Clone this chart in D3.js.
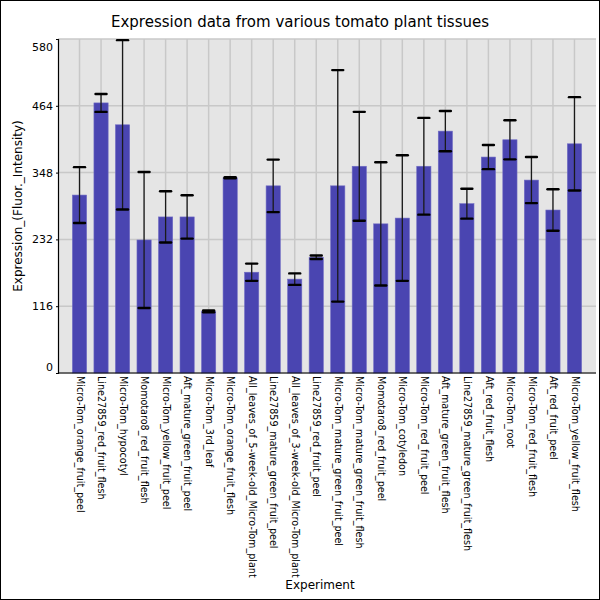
<!DOCTYPE html>
<html>
<head>
<meta charset="utf-8">
<script src="https://cdn.jsdelivr.net/npm/d3@7"></script>
<style>
  body { margin: 0; background: #fff; }
  svg { display: block; font-family: "DejaVu Sans", sans-serif; }
</style>
</head>
<body>
<div id="chart"></div>
<script>
// tissue names, in plotted order
var categories = [
    "Micro-Tom_orange_fruit_peel", "Line27859_red_fruit_flesh", "Micro-Tom_hypocotyl",
    "Momotaro8_red_fruit_flesh", "Micro-Tom_yellow_fruit_peel", "Aft_mature_green_fruit_peel",
    "Micro-Tom_3rd_leaf", "Micro-Tom_orange_fruit_flesh", "All_leaves_of_5-week-old_Micro-Tom_plant",
    "Line27859_mature_green_fruit_peel", "All_leaves_of_3-week-old_Micro-Tom_plant", "Line27859_red_fruit_peel",
    "Micro-Tom_mature_green_fruit_peel", "Micro-Tom_mature_green_fruit_flesh", "Momotaro8_red_fruit_peel",
    "Micro-Tom_cotyledon", "Micro-Tom_red_fruit_peel", "Aft_mature_green_fruit_flesh",
    "Line27859_mature_green_fruit_flesh", "Aft_red_fruit_flesh", "Micro-Tom_root",
    "Micro-Tom_red_fruit_flesh", "Aft_red_fruit_peel", "Micro-Tom_yellow_fruit_flesh"
];
// mean expression
var values = [309, 469, 431, 231, 271, 271, 107, 339, 175, 325, 163, 201,
              325, 359, 259, 269, 359, 420, 294, 375, 405, 335, 283, 398];
// error bar half width
var errors = [48.5, 15.6, 147, 118, 44.5, 37.6, 1.5, 1, 15, 45.6, 10, 3,
              201, 94.5, 107, 109, 84, 35, 26, 21, 34, 40, 36, 81];
var yTicks = [0, 116, 232, 348, 464, 580];

(function () {
    'use strict';

    var width = 600, height = 600;
    // plot area edges
    var pLeft = 58, pRight = 596, pTop = 39, pBottom = 373;

    var svg = d3.select("#chart").append("svg")
        .attr("width", width)
        .attr("height", height);

    svg.append("rect")
        .attr("x", 0.5).attr("y", 0.5)
        .attr("width", width - 1).attr("height", height - 1)
        .attr("fill", "#fff").attr("stroke", "#000");

    var x = d3.scalePoint().domain(categories).range([pLeft, pRight]).padding(1);
    var y = d3.scaleLinear().domain([0, 580]).range([pBottom, pTop]);
    var barW = x.step() * 0.66;

    // plot background
    svg.append("rect")
        .attr("x", pLeft).attr("y", pTop)
        .attr("width", pRight - pLeft).attr("height", pBottom - pTop)
        .attr("fill", "#e5e5e5");

    // grid
    svg.append("g").selectAll("line")
        .data(yTicks)
        .enter().append("line")
        .attr("x1", pLeft).attr("x2", pRight)
        .attr("y1", function (d) { return y(d); })
        .attr("y2", function (d) { return y(d); })
        .attr("stroke", "#c8c8c8").attr("stroke-width", 1.5);

    svg.append("g").selectAll("line")
        .data(categories)
        .enter().append("line")
        .attr("x1", function (d) { return x(d); })
        .attr("x2", function (d) { return x(d); })
        .attr("y1", pTop).attr("y2", pBottom)
        .attr("stroke", "#c8c8c8").attr("stroke-width", 1.5);

    // bars
    svg.append("g").selectAll("rect")
        .data(values)
        .enter().append("rect")
        .attr("x", function (d, i) { return x(categories[i]) - barW / 2; })
        .attr("y", function (d) { return y(d); })
        .attr("width", barW)
        .attr("height", function (d) { return y(0) - y(d); })
        .attr("fill", "#4a45b1")
        .attr("stroke", "#6f6bc3").attr("stroke-width", 0.6);

    // error bars
    var eb = svg.append("g").selectAll("g")
        .data(values)
        .enter().append("g");

    eb.append("line")
        .attr("x1", function (d, i) { return x(categories[i]); })
        .attr("x2", function (d, i) { return x(categories[i]); })
        .attr("y1", function (d, i) { return y(d + errors[i]); })
        .attr("y2", function (d, i) { return y(d - errors[i]); })
        .attr("stroke", "#1a1a1a").attr("stroke-width", 1.3);

    [1, -1].forEach(function (s) {
        eb.append("line")
            .attr("x1", function (d, i) { return x(categories[i]) - 5.5; })
            .attr("x2", function (d, i) { return x(categories[i]) + 5.5; })
            .attr("y1", function (d, i) { return y(d + s * errors[i]); })
            .attr("y2", function (d, i) { return y(d + s * errors[i]); })
            .attr("stroke", "#000").attr("stroke-width", 2.4)
            .attr("stroke-linecap", "round");
    });

    // y axis
    var yAxis = svg.append("g")
        .attr("transform", "translate(" + pLeft + ",0)")
        .call(d3.axisLeft(y).tickValues(yTicks).tickSize(2).tickPadding(3));
    yAxis.select(".domain").attr("stroke", "#000").attr("stroke-width", 1.2);
    yAxis.selectAll("text")
        .attr("font-family", "DejaVu Sans")
        .attr("font-size", "11px")
        .attr("fill", "#000")
        .attr("y", function (d) {
            // keep end labels inside the plot
            if (d === 580) return 8;
            if (d === 0) return -6;
            return 0;
        });

    // x axis
    var xAxis = svg.append("g")
        .attr("transform", "translate(0," + pBottom + ")")
        .call(d3.axisBottom(x).tickSize(0).tickPadding(0));
    xAxis.select(".domain").attr("stroke", "#000").attr("stroke-width", 1.2)
        .attr("d", "M" + pLeft + ",0H" + pRight);
    xAxis.selectAll("text")
        .attr("font-family", "DejaVu Sans")
        .attr("font-size", "9.6px")
        .attr("fill", "#000")
        .attr("text-anchor", "start")
        .attr("transform", "rotate(90)")
        .attr("x", 3)
        .attr("y", 0)
        .attr("dy", "0.35em");

    // titles
    svg.append("text")
        .text("Expression data from various tomato plant tissues")
        .attr("x", 300).attr("y", 27)
        .attr("text-anchor", "middle")
        .attr("font-size", "15px")
        .attr("fill", "#000");

    svg.append("text")
        .text("Experiment")
        .attr("x", 320).attr("y", 589)
        .attr("text-anchor", "middle")
        .attr("font-size", "12px")
        .attr("fill", "#000");

    svg.append("text")
        .text("Expression_(Fluor._Intensity)")
        .attr("transform", "translate(22," + ((pTop + pBottom) / 2) + ") rotate(-90)")
        .attr("text-anchor", "middle")
        .attr("font-size", "12px")
        .attr("fill", "#000");
}());
</script>
</body>
</html>
